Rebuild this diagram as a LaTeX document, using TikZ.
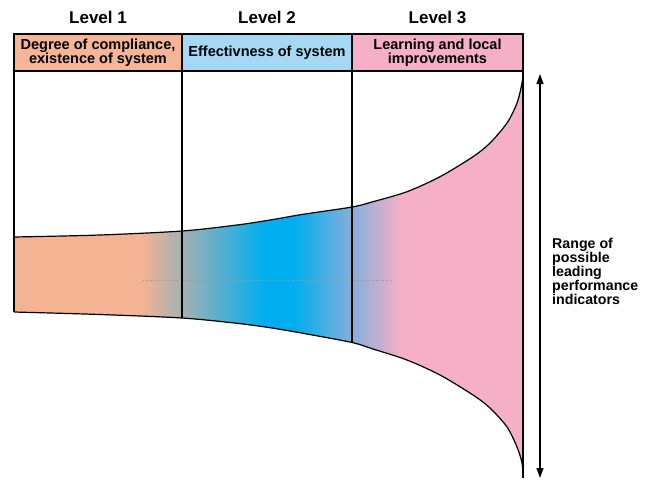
\documentclass[tikz,border=0pt]{standalone}
\usepackage{fontspec}
\setmainfont{Liberation Sans}
\usetikzlibrary{arrows.meta}
\definecolor{hOrange}{HTML}{F5B596}
\definecolor{hBlue}{HTML}{A5D8F5}
\definecolor{hPink}{HTML}{F5AFC7}
\definecolor{fOrange}{HTML}{F4B393}
\definecolor{fBlue}{HTML}{00AEEF}
\pgfdeclarehorizontalshading{funnelshade}{100bp}{color(0bp)=(fOrange); color(37.5bp)=(fOrange);
	color(49.5bp)=(fBlue); color(52.5bp)=(fBlue); color(63bp)=(hPink); color(100bp)=(hPink)}
\begin{document}
\begin{tikzpicture}[x=1pt,y=-1pt,line cap=butt,line join=miter]
	\tikzset{head/.style={draw,line width=1.2pt,minimum height=37pt,inner sep=0pt,align=center,
			font=\bfseries\fontsize{14.5}{14.3}\selectfont},
		lvl/.style={font=\bfseries\fontsize{17}{17}\selectfont},
		edge/.style={line width=1.2pt}}
	\useasboundingbox (0,0) rectangle (652,480);
	\def\funtop{(14,237) (100,235) (182,231) (237,225) (270,220) (303,214.3) (352,207) (373,201.7)
		(407,191.7) (440,176.7) (473,156.7) (490,143) (507,123) (517,103) (522,83) (523,71)}
	\def\funbot{(523,477) (522,463) (517,447) (507,427) (490,408) (473,395) (440,375) (407,360)
		(373,349) (352,342.5) (303,333.3) (270,327.7) (237,323.3) (182,318) (100,314.5) (14,312)}
	% funnel
	\begin{scope}
		\clip plot[smooth] coordinates {\funtop} -- plot[smooth] coordinates {\funbot} -- cycle;
		\shade[shading=funnelshade] (14,71) rectangle (523,480);
	\end{scope}
	\draw[gray!80,dotted,line width=0.5pt] (143,280)--(392,280);
	\draw[edge] plot[smooth] coordinates {\funtop};
	\draw[edge] plot[smooth] coordinates {\funbot};
	\foreach \x/\y in {14/312,182/318,352/342.5,523/478}{
		\draw[edge] (\x,71)--(\x,\y);}
	% headers
	\node[head,fill=hOrange,minimum width=168pt] (deg) at (98,52.5) {Degree of compliance,\\existence of system};
	\node[head,fill=hBlue,minimum width=170pt] (eff) at (267,52.5) {Effectivness of system};
	\node[head,fill=hPink,minimum width=171pt] (lrn) at (437.5,52.5) {Learning and local\\improvements};
	\node[lvl] (lv1) at (98,17.5) {Level 1};
	\node[lvl] (lv2) at (267,17.5) {Level 2};
	\node[lvl] (lv3) at (437.5,17.5) {Level 3};
	% range
	\coordinate (rtop) at (540,74);
	\coordinate (rbot) at (540,478);
	\draw[{Triangle[length=10pt,width=7pt]}-{Triangle[length=10pt,width=7pt]},line width=1.2pt] (rtop)--(rbot);
	\node[anchor=north west,inner sep=0pt,align=left,font=\bfseries\fontsize{14.2}{14}\selectfont] (range) at (552,238)
	{Range of\\possible\\leading\\performance\\indicators};
\end{tikzpicture}
\end{document}
